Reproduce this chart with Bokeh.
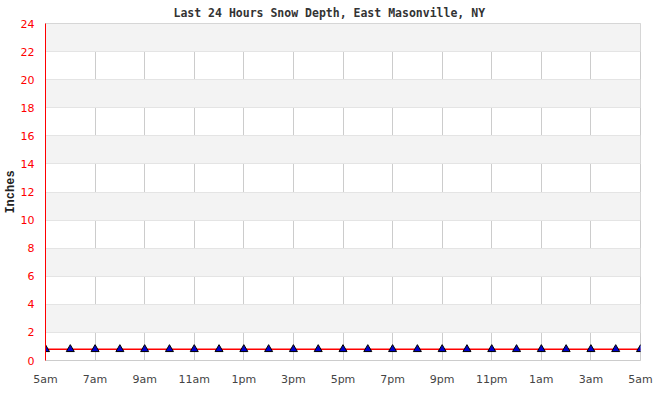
from bokeh.plotting import figure
from bokeh.models import FixedTicker, Title
from bokeh.embed import file_html
from bokeh.resources import INLINE

hour_labels = ["5am", "6am", "7am", "8am", "9am", "10am", "11am", "12pm", "1pm",
               "2pm", "3pm", "4pm", "5pm", "6pm", "7pm", "8pm", "9pm", "10pm",
               "11pm", "12am", "1am", "2am", "3am", "4am", "5am"]
snow_depth = [0.8, 0.8, 0.8, 0.8, 0.8, 0.8, 0.8, 0.8, 0.8, 0.8, 0.8, 0.8, 0.8,
              0.8, 0.8, 0.8, 0.8, 0.8, 0.8, 0.8, 0.8, 0.8, 0.8, 0.8, 0.8]
y_ticks = [0, 2, 4, 6, 8, 10, 12, 14, 16, 18, 20, 22, 24]

xs = list(range(len(hour_labels)))
x_ticks = xs[::2]

p = figure(frame_width=595, frame_height=337, output_backend="svg",
           toolbar_location=None, x_range=(xs[0], xs[-1]), y_range=(0, 24),
           min_border_top=18, min_border_bottom=26, min_border_right=14,
           min_border_left=0)
p.title = Title(text="Last 24 Hours Snow Depth, East Masonville, NY",
                align="left", text_font="DejaVu Sans Mono",
                text_font_size="11.5px", text_font_style="bold",
                text_color="#333333", standoff=7, offset=128)

p.line(xs, snow_depth, line_color="red", line_width=1.5)
p.scatter(xs, snow_depth, marker="triangle", size=8, fill_color="#0000cc",
          line_color="black", line_width=1)

p.background_fill_color = "white"
p.outline_line_color = "#cccccc"

p.xaxis.ticker = FixedTicker(ticks=x_ticks)
p.xaxis.major_label_overrides = {i: hour_labels[i] for i in x_ticks}
p.xaxis.axis_line_color = "#cccccc"
p.xaxis.major_tick_line_color = None
p.xaxis.minor_tick_line_color = None
p.xaxis.major_label_text_color = "#444444"
p.xaxis.major_label_text_font = "DejaVu Sans"
p.xaxis.major_label_text_font_size = "11px"
p.xaxis.major_label_standoff = 6

p.yaxis.ticker = FixedTicker(ticks=y_ticks)
p.yaxis.axis_line_color = "red"
p.yaxis.major_tick_line_color = None
p.yaxis.minor_tick_line_color = None
p.yaxis.major_label_text_color = "red"
p.yaxis.major_label_text_font = "DejaVu Sans"
p.yaxis.major_label_text_font_size = "11px"
p.yaxis.major_label_standoff = 5
p.yaxis.axis_label = "Inches"
p.yaxis.axis_label_text_font = "Liberation Mono"
p.yaxis.axis_label_text_font_style = "bold"
p.yaxis.axis_label_text_font_size = "12px"
p.yaxis.axis_label_text_color = "#222222"
p.yaxis.axis_label_standoff = 0

p.xgrid.ticker = FixedTicker(ticks=x_ticks)
p.xgrid.grid_line_color = "#cccccc"
p.ygrid.ticker = FixedTicker(ticks=y_ticks)
p.ygrid.grid_line_color = "#e4e4e4"
p.ygrid.band_fill_color = "#f3f3f3"
p.ygrid.band_fill_alpha = 1.0

open("out.html", "w").write(file_html(p, INLINE))
